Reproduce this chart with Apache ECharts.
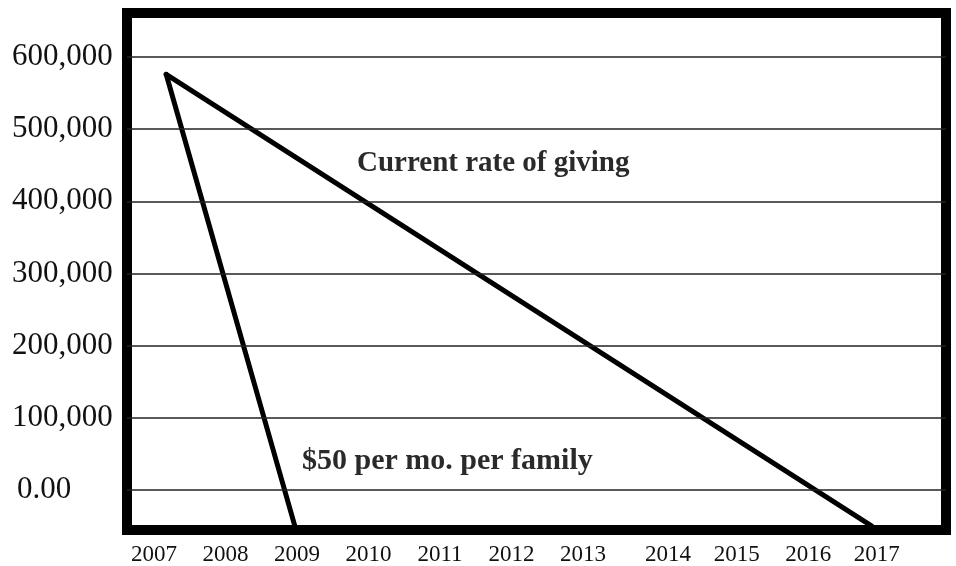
<!DOCTYPE html>
<html>
<head>
<meta charset="utf-8">
<script src="https://cdn.jsdelivr.net/npm/echarts@6/dist/echarts.min.js"></script>
<style>
html,body{margin:0;padding:0;background:#fff;}
#chart{width:956px;height:566px;}
</style>
</head>
<body>
<div id="chart"></div>
<script>
// ---- data ----
const currentRateYears = [2007.17, 2017.04];
const currentRateValues = [576000, -50000];
const fiftyPerMonthYears = [2007.17, 2008.97];
const fiftyPerMonthValues = [576000, -50000];
const yTickValues = [0, 100000, 200000, 300000, 400000, 500000, 600000];
const xTickLabels = ['2007','2008','2009','2010','2011','2012','2013','2014','2015','2016','2017'];
const annotationTexts = ['Current rate of giving', '$50 per mo. per family'];

// label anchor positions along the year axis (reference spacing is uneven)
const xLabelAnchors = [2007, 2008, 2009, 2010, 2011, 2012, 2013, 2014.19, 2015.15, 2016.15, 2017.11];

const serif = '"Liberation Serif", "DejaVu Serif", serif';
const chart = echarts.init(document.getElementById('chart'), null, {renderer: 'canvas'});

function pairs(xs, ys) { return xs.map((x, i) => [x, ys[i]]); }

const option = {
  animation: false,
  backgroundColor: '#fff',
  grid: {
    left: 127, top: 13, width: 819, height: 517,
    show: true, borderColor: '#000', borderWidth: 10, backgroundColor: 'transparent'
  },
  xAxis: {
    type: 'value',
    min: 2006.622, max: 2018.077,
    axisLine: {show: false}, axisTick: {show: false}, splitLine: {show: false},
    axisLabel: {
      customValues: xLabelAnchors,
      formatter: function (v) {
        const i = xLabelAnchors.findIndex(a => Math.abs(a - v) < 1e-6);
        return i >= 0 ? xTickLabels[i] : '';
      },
      fontFamily: serif, fontSize: 23, color: '#111', margin: 13
    }
  },
  yAxis: {
    type: 'value',
    min: -55425, max: 660940,
    axisLine: {show: false}, axisTick: {show: false}, splitLine: {show: false},
    axisLabel: {
      customValues: yTickValues,
      formatter: function (v) {
        return v === 0 ? '{z|0.00}' : v.toLocaleString('en-US');
      },
      rich: { z: { fontFamily: serif, fontSize: 31, color: '#111', padding: [0, 0, 0, 5] } },
      align: 'left', margin: 115,
      fontFamily: serif, fontSize: 31, color: '#111'
    }
  },
  series: [
    {
      name: 'Current rate of giving',
      type: 'line',
      data: pairs(currentRateYears, currentRateValues),
      showSymbol: false, symbol: 'none',
      lineStyle: {color: '#000', width: 5, cap: 'round', join: 'miter'},
      z: 3,
      markLine: {
        silent: true, symbol: ['none', 'none'], animation: false,
        label: {show: false},
        lineStyle: {color: '#222', width: 1.5, type: 'solid'},
        emphasis: {disabled: true},
        data: yTickValues.map(v => ({yAxis: v}))
      }
    },
    {
      name: '$50 per mo. per family',
      type: 'line',
      data: pairs(fiftyPerMonthYears, fiftyPerMonthValues),
      showSymbol: false, symbol: 'none',
      lineStyle: {color: '#000', width: 5, cap: 'round', join: 'miter'},
      z: 3
    }
  ],
  graphic: [
    {type: 'text', left: 357, top: 149, z: 10,
     style: {text: annotationTexts[0], font: 'bold 29px ' + serif, fill: '#2a2a2a'}},
    {type: 'text', left: 302, top: 446, z: 10,
     style: {text: annotationTexts[1], font: 'bold 30px ' + serif, fill: '#2a2a2a'}}
  ]
};
chart.setOption(option);
</script>
</body>
</html>
